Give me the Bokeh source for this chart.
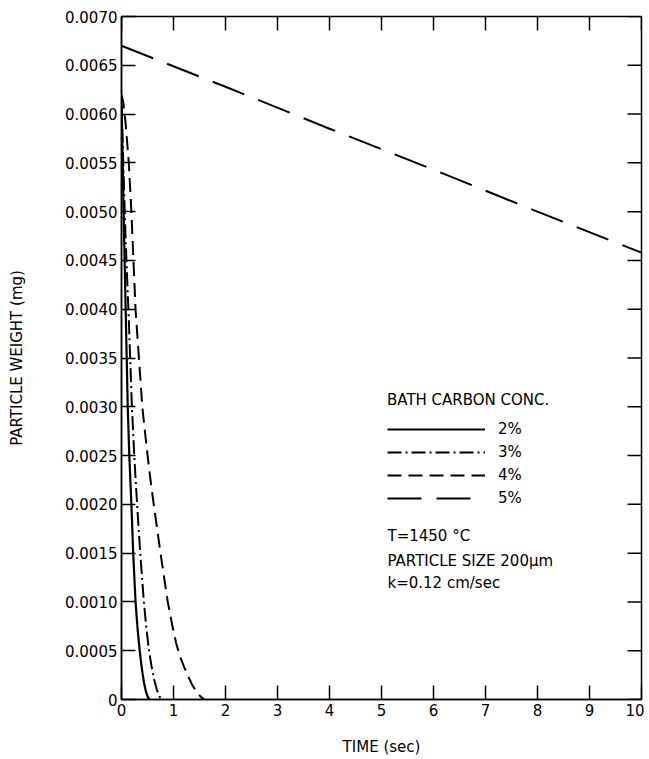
from bokeh.plotting import figure
from bokeh.models import FixedTicker, Legend, LegendItem, Label, Range1d
from bokeh.embed import file_html
from bokeh.resources import INLINE

# ---- data ----
t_2 = [0, 0.02, 0.04, 0.06, 0.08, 0.10, 0.12, 0.15, 0.19, 0.225, 0.27, 0.31, 0.35, 0.39, 0.43, 0.47, 0.51, 0.54]
w_2 = [0.0061, 0.0056, 0.0050, 0.0045, 0.0040, 0.0035, 0.0030, 0.0025, 0.0020, 0.0015, 0.0010, 0.00072,
       0.0005, 0.00032, 0.00018, 0.00008, 0.00002, 0.0]

t_3 = [0, 0.04, 0.08, 0.14, 0.20, 0.25, 0.30, 0.36, 0.43, 0.48, 0.53, 0.58, 0.63, 0.68, 0.73, 0.78]
w_3 = [0.0061, 0.0054, 0.0047, 0.0039, 0.0030, 0.00245, 0.0020, 0.0015, 0.0010, 0.00072, 0.0005, 0.00033,
       0.0002, 0.0001, 0.00003, 0.0]

t_4 = [0, 0.04, 0.08, 0.14, 0.19, 0.27, 0.40, 0.48, 0.56, 0.62, 0.75, 0.89, 0.98, 1.05, 1.12, 1.20, 1.28,
       1.36, 1.44, 1.52, 1.59]
w_4 = [0.0062, 0.0061, 0.0059, 0.0055, 0.0050, 0.0040, 0.0030, 0.0026, 0.00224, 0.0020, 0.0015, 0.0010,
       0.00075, 0.00058, 0.00045, 0.00034, 0.00024, 0.00015, 0.00008, 0.00003, 0.0]

t_5 = [0, 2, 4, 6, 8, 10]
w_5 = [0.0067, 0.00628, 0.00585, 0.00543, 0.00500, 0.00458]

series_labels = ["2%", "3%", "4%", "5%"]

x_ticks = [0, 1, 2, 3, 4, 5, 6, 7, 8, 9, 10]
y_ticks = [0.0, 0.0005, 0.0010, 0.0015, 0.0020, 0.0025, 0.0030, 0.0035,
           0.0040, 0.0045, 0.0050, 0.0055, 0.0060, 0.0065, 0.0070]
y_tick_labels = ["0", "0.0005", "0.0010", "0.0015", "0.0020", "0.0025", "0.0030", "0.0035",
                 "0.0040", "0.0045", "0.0050", "0.0055", "0.0060", "0.0065", "0.0070"]

legend_title = "BATH CARBON CONC."
notes = ["T=1450 °C", "PARTICLE SIZE 200μm", "k=0.12 cm/sec"]

FONT = "DejaVu Sans"
TICK_LEN = 14

x_rng = Range1d(0, 10)
y_rng = Range1d(0, 0.007)

p = figure(width=644, height=759, x_range=x_rng, y_range=y_rng,
           output_backend="svg", toolbar_location=None,
           min_border_left=121, min_border_right=3, min_border_top=16, min_border_bottom=60)
p.xgrid.visible = False
p.ygrid.visible = False
p.outline_line_color = "black"
p.outline_line_width = 1.5
p.background_fill_color = "white"
p.border_fill_color = "white"

def style_axis(ax, ticks):
    ax.ticker = FixedTicker(ticks=ticks)
    ax.major_tick_in = TICK_LEN
    ax.major_tick_out = 0
    ax.minor_tick_line_color = None
    ax.major_tick_line_color = "black"
    ax.major_tick_line_width = 1.5
    ax.axis_line_color = "black"
    ax.axis_line_width = 1.5
    ax.major_label_text_font = FONT
    ax.major_label_text_font_size = "15px"
    ax.major_label_text_color = "black"
    ax.axis_label_text_font = FONT
    ax.axis_label_text_font_size = "15px"
    ax.axis_label_text_font_style = "normal"
    ax.axis_label_text_color = "black"

xa = p.xaxis[0]
style_axis(xa, x_ticks)
xa.axis_label = "TIME (sec)"
xa.major_label_standoff = 4
xa.axis_label_standoff = 19

ya = p.yaxis[0]
style_axis(ya, y_ticks)
ya.axis_label = "PARTICLE WEIGHT (mg)"
ya.major_label_standoff = 4
ya.axis_label_standoff = 36
ya.major_label_overrides = {v: s for v, s in zip(y_ticks, y_tick_labels)}

# inward ticks on the top and right frame edges, at the same tick values
p.ray(x=x_ticks, y=[y_rng.end] * len(x_ticks), length=TICK_LEN, length_units="screen",
      angle=-90, angle_units="deg", line_color="black", line_width=1.5)
p.ray(x=[x_rng.end] * len(y_ticks), y=y_ticks, length=TICK_LEN, length_units="screen",
      angle=180, angle_units="deg", line_color="black", line_width=1.5)

r2 = p.line(t_2, w_2, line_color="black", line_width=2.2)
r3 = p.line(t_3, w_3, line_color="black", line_width=2, line_dash="14 4 2 4")
r4 = p.line(t_4, w_4, line_color="black", line_width=2, line_dash="14 7")
r5 = p.line(t_5, w_5, line_color="black", line_width=2, line_dash="34 15")

legend = Legend(
    items=[LegendItem(label=l, renderers=[r]) for l, r in zip(series_labels, [r2, r3, r4, r5])],
    location=(266, 191), title=legend_title,
    glyph_width=98, glyph_height=20, label_height=20, spacing=3, padding=0, margin=0,
    border_line_color=None, background_fill_alpha=0,
    label_standoff=13, label_text_font=FONT, label_text_font_size="15px", label_text_color="black",
    title_text_font=FONT, title_text_font_size="15px", title_text_font_style="normal",
    title_text_color="black", title_standoff=10,
)
p.add_layout(legend)

for txt, y in zip(notes, [164, 139, 117]):
    p.add_layout(Label(x=266, y=y, x_units="screen", y_units="screen", text=txt,
                       text_baseline="middle", text_font=FONT, text_font_size="15px",
                       text_color="black"))

open("out.html", "w").write(file_html(p, INLINE))
